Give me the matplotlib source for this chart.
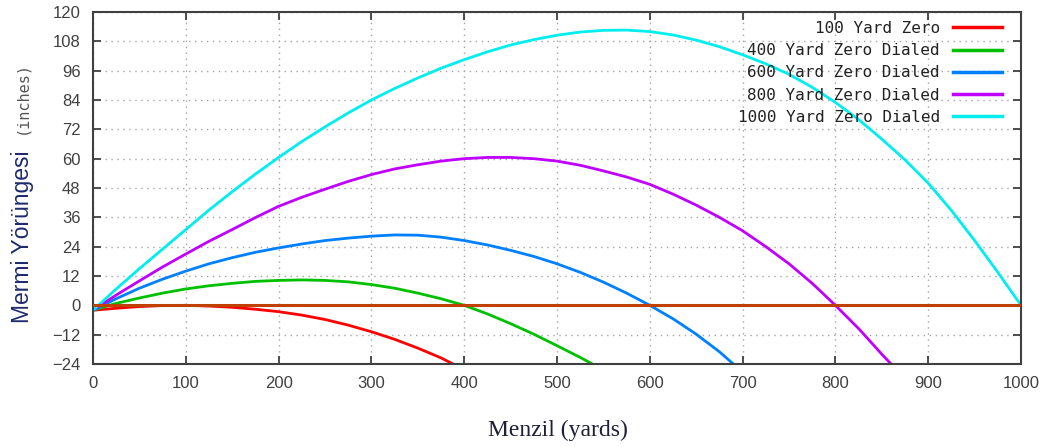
import matplotlib
matplotlib.use("Agg")
import matplotlib.pyplot as plt

# bullet path vs range (yards -> inches)
x_100 = [0, 25, 50, 75, 100, 125, 150, 175, 200, 225, 250, 275, 300, 325,
         350, 375, 388]
y_100 = [-2, -1.2, -0.5, -0.1, 0, -0.3, -0.8, -1.6, -2.6, -4, -5.8, -8.1,
         -10.8, -13.9, -17.5, -21.5, -24]

x_400 = [0, 25, 50, 75, 100, 125, 150, 175, 200, 225, 250, 275, 300, 325,
         350, 375, 400, 425, 450, 475, 500, 525, 538]
y_400 = [-2, 0.8, 3, 5, 6.7, 8, 9, 9.8, 10.2, 10.4, 10.2, 9.6, 8.5, 7,
         5, 2.7, 0, -3.5, -7.5, -11.8, -16.5, -21.3, -24]

x_600 = [0, 25, 50, 75, 100, 125, 150, 175, 200, 225, 250, 275, 300, 325,
         350, 375, 400, 425, 450, 475, 500, 525, 550, 575, 600, 625, 650,
         675, 690]
y_600 = [-2, 2.7, 7, 10.7, 14, 17, 19.5, 21.7, 23.5, 25.1, 26.5, 27.5, 28.3,
         28.8, 28.7, 27.9, 26.5, 24.7, 22.5, 20, 17, 13.5, 9.5, 5, 0, -5.5,
         -11.8, -19, -24]

x_800 = [0, 25, 50, 75, 100, 125, 150, 175, 200, 225, 250, 275, 300, 325,
         350, 375, 400, 425, 450, 475, 500, 525, 550, 575, 600, 625, 650,
         675, 700, 725, 750, 775, 800, 825, 850, 860]
y_800 = [-2, 4.2, 10, 15.7, 21, 26.2, 31, 35.9, 40.5, 44.2, 47.5, 50.7, 53.5,
         55.8, 57.5, 59, 60, 60.5, 60.5, 60, 59, 57.3, 55, 52.5, 49.5, 45.5,
         41, 36, 30.5, 24, 17, 9, 0, -9.5, -20, -24]

x_1000 = [0, 25, 50, 75, 100, 125, 150, 175, 200, 225, 250, 275, 300, 325,
          350, 375, 400, 425, 450, 475, 500, 525, 550, 575, 600, 625, 650,
          675, 700, 725, 750, 775, 800, 825, 850, 875, 900, 925, 950, 975, 1000]
y_1000 = [-2, 6.7, 15, 23, 31, 39, 46.5, 53.7, 60.5, 67, 73, 78.7, 84, 88.7,
          93, 97, 100.5, 103.7, 106.5, 108.7, 110.5, 111.8, 112.5, 112.6, 112,
          110.6, 108.5, 105.8, 102.5, 98.8, 94.5, 89.2, 83, 76, 68, 59.5, 50,
          38.8, 26.5, 13.5, 0]

labels = ['100 Yard Zero', '400 Yard Zero Dialed', '600 Yard Zero Dialed',
          '800 Yard Zero Dialed', '1000 Yard Zero Dialed']
colors = ['#ff0000', '#00c000', '#0080ff', '#c000ff', '#00eeee']
series = [(x_100, y_100), (x_400, y_400), (x_600, y_600),
          (x_800, y_800), (x_1000, y_1000)]

x_ticks = list(range(0, 1001, 100))
y_ticks = list(range(-24, 121, 12))

fig = plt.figure(figsize=(10.57, 4.47), dpi=100)
ax = fig.add_axes([93 / 1057, 83 / 447, 928 / 1057, 352 / 447])

for (xs, ys), lab, c in zip(series, labels, colors):
    ax.plot(xs, ys, color=c, lw=2, label=lab, solid_joinstyle='round')

# line of sight
ax.plot([0, 1000], [0, 0], color='#c04000', lw=2.2, zorder=5)

ax.set_xlim(0, 1000)
ax.set_ylim(-24, 120)
ax.set_xticks(x_ticks)
ax.set_yticks(y_ticks)
ax.grid(True, color='#a4a4a4', linestyle=(0, (1, 3.3)), linewidth=1)
ax.tick_params(direction='in', length=6, width=1.3, color='#404040',
               top=True, right=True, labelsize=12, labelcolor='#404040', pad=9)
for t in ax.get_xticklabels() + ax.get_yticklabels():
    t.set_family('Liberation Sans')
for s in ax.spines.values():
    s.set_color('#404040')
    s.set_linewidth(1.5)

leg = ax.legend(loc='upper right', bbox_to_anchor=(1010 / 1057, 434 / 447),
                bbox_transform=fig.transFigure, frameon=False, markerfirst=False,
                borderpad=0, handlelength=3.1, handletextpad=0.8,
                labelspacing=0.45, prop={'family': 'DejaVu Sans Mono', 'size': 11.5})
for t in leg.get_texts():
    t.set_color('#222222')
for h in leg.get_lines():
    h.set_linewidth(2.5)

# y label in two pieces, like the original
fig.text(22 / 1057, 1 - 237 / 447, 'Mermi Yörüngesi', rotation=90, ha='center',
         va='center', fontsize=16.5, color='#1f2a6e', family='Liberation Sans')
fig.text(22 / 1057, 1 - 98 / 447, '(inches)', rotation=90, ha='center',
         va='center', fontsize=11, color='#555555', family='DejaVu Sans Mono')

fig.text(558 / 1057, 1 - 430 / 447, 'Menzil (yards)', ha='center', va='center',
         fontsize=17, color='#1e1e38', family='Liberation Serif')

fig.savefig('out.png', dpi=100)
